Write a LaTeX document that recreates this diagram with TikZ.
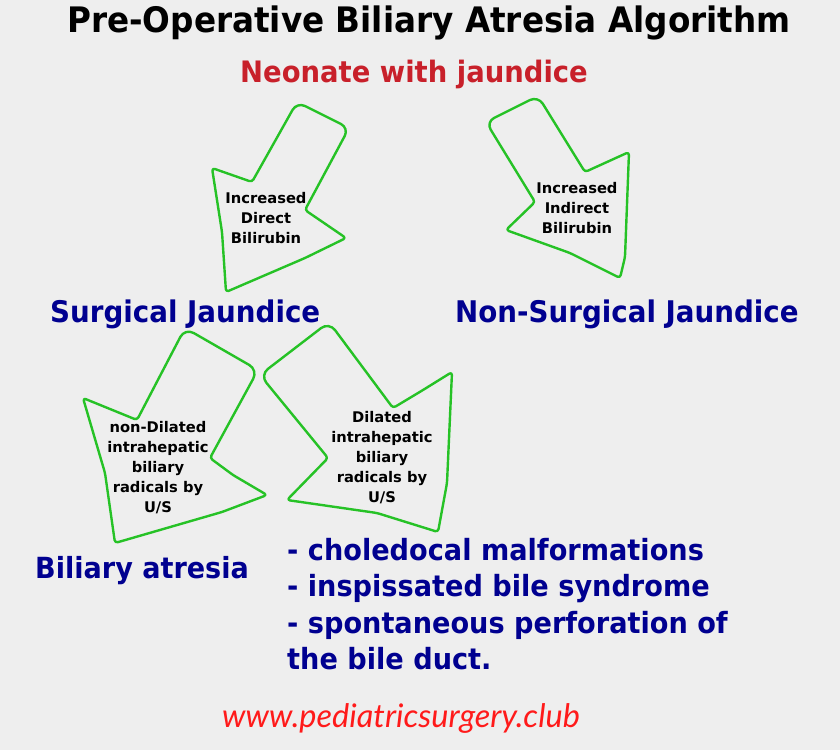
\documentclass[tikz,border=0pt]{standalone}
\usepackage{fontspec}
\setmainfont{DejaVu Sans}[FakeStretch=0.93]
\newfontfamily\arrowfont{DejaVu Sans}
\newfontfamily\urlfont{Lato}
\definecolor{bgc}{HTML}{EEEEEE}
\definecolor{grn}{HTML}{26C226}
\definecolor{nred}{HTML}{C8202A}
\definecolor{nblue}{HTML}{000090}
\definecolor{urlred}{HTML}{FF1A1A}
\begin{document}
\begin{tikzpicture}[x=1pt,y=-1pt,
  arrowline/.style={draw=grn,line width=2.4pt,line join=round,rounded corners=3pt},
  arrowtext/.style={align=center,inner sep=0pt,font=\arrowfont\bfseries\fontsize{14.7}{20}\selectfont},
  head/.style={anchor=base west,inner sep=0pt,font=\bfseries\fontsize{29.8}{34}\selectfont,text=nblue},
  listitem/.style={anchor=base west,inner sep=0pt,font=\bfseries\fontsize{29.2}{34}\selectfont,text=nblue}]
\fill[bgc] (0,0) rectangle (840,750);
\useasboundingbox (0,0) rectangle (840,750);

\node[anchor=base west,inner sep=0pt,font=\bfseries\fontsize{35.1}{40}\selectfont] (title) at (67,32) {Pre-Operative Biliary Atresia Algorithm};
\node[anchor=base west,inner sep=0pt,font=\bfseries\fontsize{29.5}{34}\selectfont,text=nred] (neo) at (240,82) {Neonate with jaundice};

% Arrow 1: Increased Direct Bilirubin
\draw[arrowline] (252,182) -- (212,168) -- (222,232) -- (226,292) -- (305,258) -- (346,238) -- (305,210)
  [rounded corners=9pt] -- (349,128) -- (297,102) [rounded corners=3pt] -- cycle;
\node[arrowtext] (a1) at (266,218) {Increased\\Direct\\Bilirubin};

% Arrow 2: Increased Indirect Bilirubin
\draw[arrowline] (535,202) -- (506,230) -- (570,253) -- (620,278) -- (625,257) -- (629,152) -- (585,172)
  [rounded corners=9pt] -- (538,96) -- (486,122) [rounded corners=3pt] -- cycle;
\node[arrowtext] (a2) at (577,208) {Increased\\Indirect\\Bilirubin};

\node[head] (surg) at (50,322) {Surgical Jaundice};
\node[head] (nonsurg) at (455,322) {Non-Surgical Jaundice};

% Arrow 3: non-Dilated
\draw[arrowline] (137,420) -- (83,398) -- (105,473) -- (115,543) -- (222,512) -- (267,495) -- (233,475) -- (210,458)
  [rounded corners=10pt] -- (258,370) -- (185,328) [rounded corners=3pt] -- cycle;
\node[arrowtext] (a3) at (158,468) {non-Dilated\\intrahepatic\\biliary\\radicals by\\U/S};

% Arrow 4: Dilated
\draw[arrowline] (328,458) -- (287,500) -- (377,513) -- (438,532) -- (447,483) -- (452,372) -- (423,390) -- (393,408)
  [rounded corners=10pt] -- (329,322) -- (260,375) [rounded corners=3pt] -- cycle;
\node[arrowtext] (a4) at (382,458) {Dilated\\intrahepatic\\biliary\\radicals by\\U/S};

\node[head,font=\bfseries\fontsize{29.1}{34}\selectfont] (ba) at (35,578) {Biliary atresia};
\node[listitem] (l1) at (287,560) {- choledocal malformations};
\node[listitem] (l2) at (287,596) {- inspissated bile syndrome};
\node[listitem] (l3) at (287,633) {- spontaneous perforation of};
\node[listitem] (l4) at (287,669) {the bile duct.};

\node[anchor=base west,inner sep=0pt,font=\urlfont\itshape\fontsize{32.5}{36}\selectfont,text=urlred] (url) at (222,727) {www.pediatricsurgery.club};
\end{tikzpicture}
\end{document}
